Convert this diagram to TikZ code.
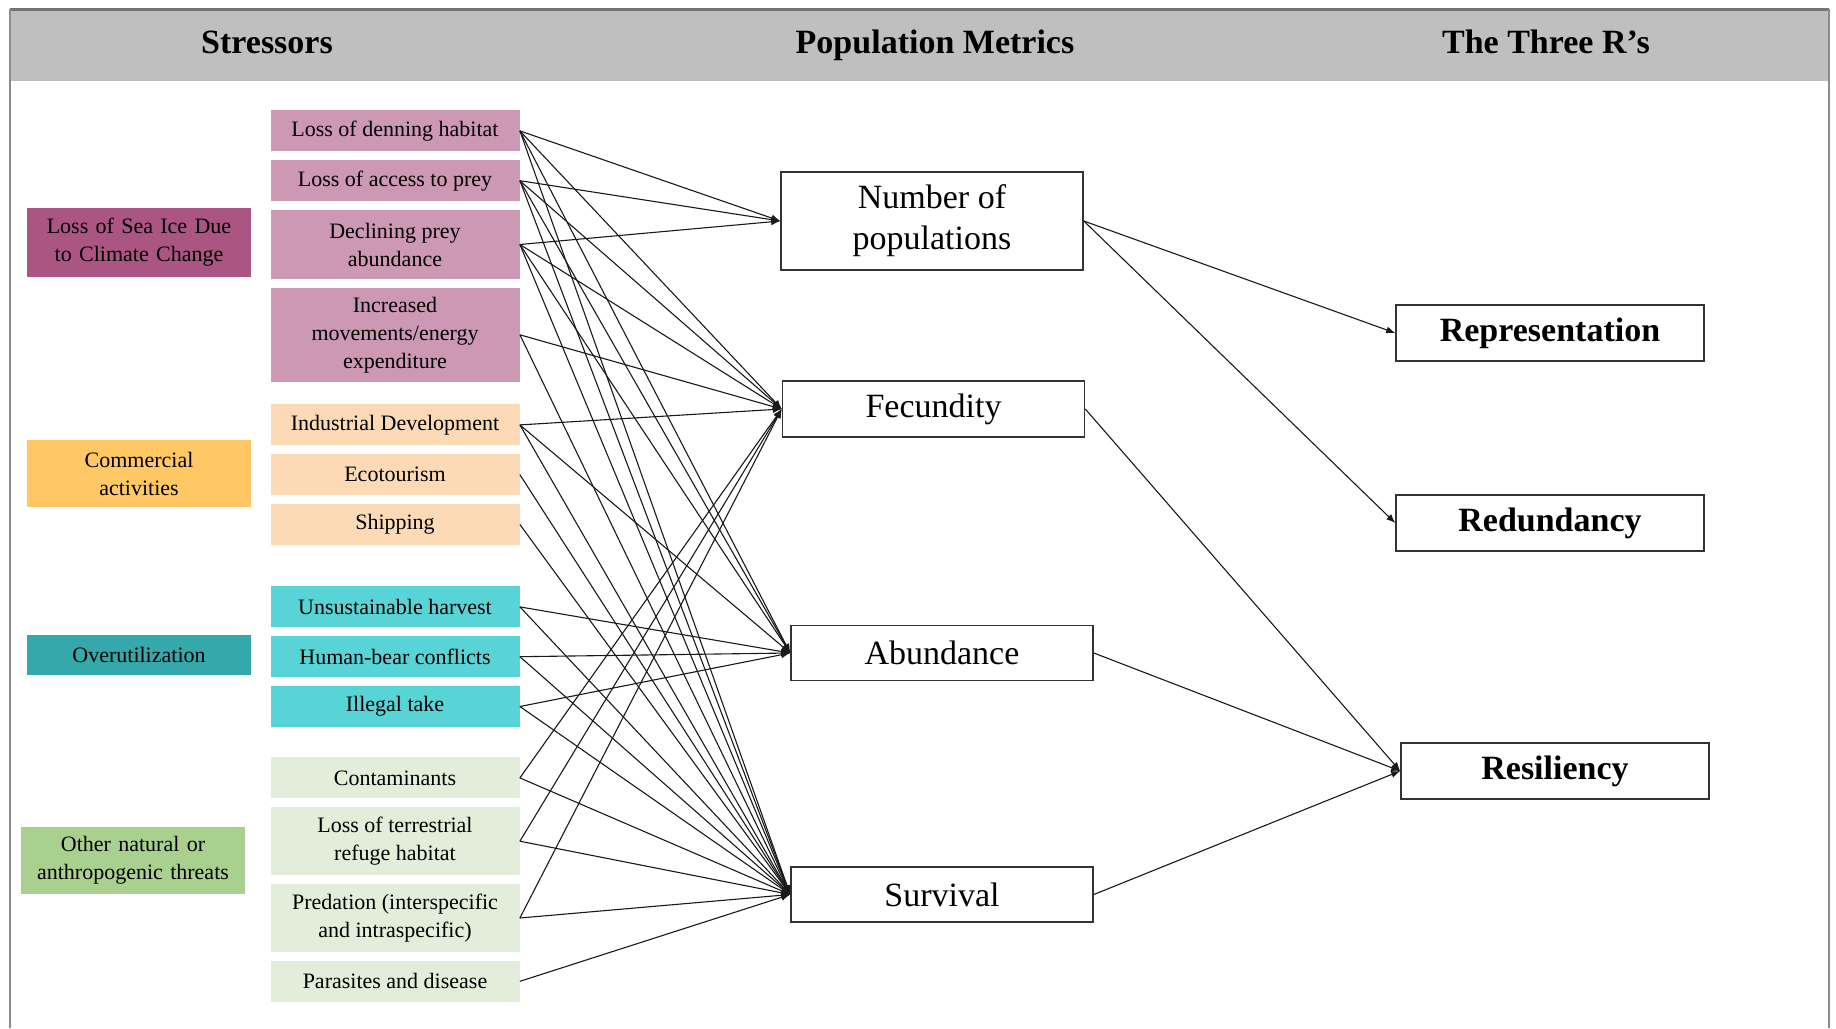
\documentclass[tikz,border=0pt]{standalone}
\usepackage{fontspec}
\setmainfont{Liberation Serif}
\usetikzlibrary{positioning, arrows.meta}

\definecolor{iceDark}{RGB}{170,85,130}
\definecolor{icePale}{RGB}{205,152,180}
\definecolor{comDark}{RGB}{255,200,100}
\definecolor{comPale}{RGB}{253,218,182}
\definecolor{useDark}{RGB}{52,168,170}
\definecolor{usePale}{RGB}{88,212,214}
\definecolor{othDark}{RGB}{169,208,142}
\definecolor{othPale}{RGB}{226,237,218}

\begin{document}
\begin{tikzpicture}[x=0.5pt, y=-0.5pt, node distance=4pt,
cause/.style={rectangle, inner sep=2pt, text width=108pt, align=center, font=\fontsize{11}{14}\selectfont},
stress/.style={rectangle, inner sep=2pt, minimum width=124.5pt, minimum height=20.5pt, align=center, font=\fontsize{11}{14}\selectfont},
metric/.style={rectangle, draw=black!80, line width=0.8pt, minimum width=151pt, minimum height=27.5pt, align=center, font=\fontsize{17}{20.5}\selectfont},
three/.style={metric, minimum width=154pt, minimum height=28pt, font=\fontsize{17}{20}\selectfont\bfseries},
head/.style={anchor=base, font=\fontsize{17}{20}\selectfont\bfseries},
every edge/.style={draw=black!90, line width=0.55pt, -{Latex[length=4.5pt,width=3.6pt]}}]
\useasboundingbox (0,0) rectangle (1836,1028);

% frame and header band
\fill[black!25] (10,9) rectangle (1829,81);
\draw[black!55, line width=1.5pt] (10,9) -- (1829,9);
\draw[black!45, line width=1pt] (10,9) -- (10,1028) (1829,9) -- (1829,1028);
\node (hs) [head] at (267,54) {Stressors};
\node (hp) [head] at (935,54) {Population Metrics};
\node (hr) [head] at (1546,54) {The Three R’s};

% stressor groups
\node (ice) [cause, fill=iceDark, minimum height=34.5pt] at (139,242) {Loss of Sea Ice Due\\to Climate Change};
\node (com) [cause, fill=comDark, minimum height=33.5pt] at (139,473.5) {Commercial\\activities};
\node (use) [cause, fill=useDark, minimum height=20pt] at (139,655) {Overutilization};
\node (oth) [cause, fill=othDark, minimum height=33.5pt] at (133,860.5) {Other natural or\\anthropogenic threats};

\node (den) [stress, fill=icePale, anchor=north] at (395,110) {Loss of denning habitat};
\node (acc) [stress, fill=icePale, below=of den] {Loss of access to prey};
\node (dec) [stress, fill=icePale, below=of acc, minimum height=34.5pt] {Declining prey\\abundance};
\node (inc) [stress, fill=icePale, below=of dec, minimum height=47pt] {Increased\\movements/energy\\expenditure};

\node (ind) [stress, fill=comPale, anchor=north] at (395,404) {Industrial Development};
\node (eco) [stress, fill=comPale, below=of ind] {Ecotourism};
\node (shp) [stress, fill=comPale, below=of eco] {Shipping};

\node (har) [stress, fill=usePale, anchor=north] at (395,586) {Unsustainable harvest};
\node (hum) [stress, fill=usePale, below=of har] {Human-bear conflicts};
\node (ill) [stress, fill=usePale, below=of hum] {Illegal take};

\node (con) [stress, fill=othPale, anchor=north] at (395,757) {Contaminants};
\node (ter) [stress, fill=othPale, below=of con, minimum height=34pt] {Loss of terrestrial\\refuge habitat};
\node (pre) [stress, fill=othPale, below=of ter, minimum height=34pt] {Predation (interspecific\\and intraspecific)};
\node (par) [stress, fill=othPale, below=of pre] {Parasites and disease};

% population metrics
\node (pop) [metric, minimum height=49pt] at (932,221) {Number of\\populations};
\node (fec) [metric, minimum height=28pt] at (933.5,409) {Fecundity};
\node (abu) [metric] at (942,653) {Abundance};
\node (sur) [metric] at (942,894.5) {Survival};

% the three R's
\node (rep) [three] at (1550,333) {Representation};
\node (red) [three] at (1550,523) {Redundancy};
\node (res) [three] at (1555,771) {Resiliency};

% stressors -> metrics
\path (den.east) edge (pop.west) edge (fec.west) edge (abu.west) edge (sur.west);
\path (acc.east) edge (pop.west) edge (fec.west) edge (abu.west) edge (sur.west);
\path (dec.east) edge (pop.west) edge (fec.west) edge (abu.west) edge (sur.west);
\path (inc.east) edge (fec.west) edge (sur.west);
\path (ind.east) edge (fec.west) edge (abu.west) edge (sur.west);
\path (eco.east) edge (sur.west);
\path (shp.east) edge (sur.west);
\path (har.east) edge (abu.west) edge (sur.west);
\path (hum.east) edge (abu.west) edge (sur.west);
\path (ill.east) edge (abu.west) edge (sur.west);
\path (con.east) edge (fec.west) edge (sur.west);
\path (ter.east) edge (fec.west) edge (sur.west);
\path (pre.east) edge (fec.west) edge (sur.west);
\path (par.east) edge (sur.west);

% metrics -> three R's
\path (pop.east) edge (rep.west) edge (red.west);
\path (fec.east) edge (res.west);
\path (abu.east) edge (res.west);
\path (sur.east) edge (res.west);
\end{tikzpicture}
\end{document}
